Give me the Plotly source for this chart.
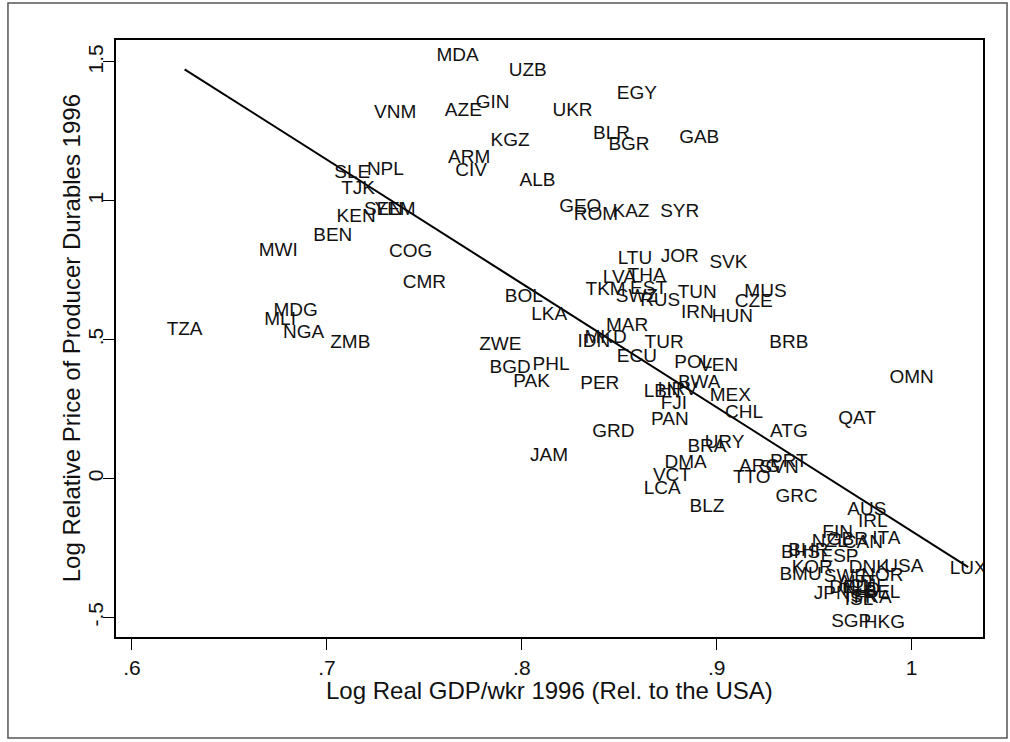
import numpy as np
import plotly.graph_objects as go

# Country codes with log real GDP per worker (rel. to USA) and log relative price of producer durables, 1996
countries = [
    "VNM", "SLE", "NPL", "TJK", "SEN", "YEM", "KEN", "BEN", "MWI", "COG",
    "MDA", "UZB", "EGY", "AZE", "GIN", "UKR", "KGZ", "BLR", "BGR", "GAB",
    "ARM", "CIV", "ALB", "GEO", "ROM", "KAZ", "SYR", "LTU", "JOR", "SVK",
    "MUS", "CZE", "HUN", "BRB", "CMR", "TZA", "MDG", "MLI", "NGA", "ZMB",
    "LVA", "THA", "TKM", "EST", "SWZ", "RUS", "TUN", "IRN", "BOL", "LKA",
    "MAR", "MKD", "IDN", "ZWE", "TUR", "ECU", "POL", "VEN", "BGD", "PHL",
    "PAK", "PER", "BWA", "LBN", "HRV", "MEX", "FJI", "PAN", "GRD", "CHL",
    "ATG", "BRA", "URY", "DMA", "VCT", "LCA", "BLZ", "ARG", "SVN", "PRT",
    "TTO", "GRC", "QAT", "OMN", "AUS", "IRL", "FIN", "ITA", "NZL", "GBR",
    "CAN", "BHS", "BHR", "ESP", "KOR", "DNK", "USA", "LUX", "BMU", "NOR",
    "JPN", "BEL", "ISL", "SGP", "HKG", "JAM", "SWE", "AUT", "CHE", "DEU",
    "FRA", "NLD", "ISR",
]

log_gdp_wkr = [
    0.735, 0.713, 0.730, 0.716, 0.729, 0.735, 0.715, 0.703, 0.675, 0.743,
    0.767, 0.803, 0.859, 0.770, 0.785, 0.826, 0.794, 0.846, 0.855, 0.891,
    0.773, 0.774, 0.808, 0.830, 0.838, 0.856, 0.881, 0.858, 0.881, 0.906,
    0.925, 0.919, 0.908, 0.937, 0.750, 0.627, 0.684, 0.676, 0.688, 0.712,
    0.850, 0.864, 0.843, 0.865, 0.859, 0.871, 0.890, 0.890, 0.801, 0.814,
    0.854, 0.843, 0.837, 0.789, 0.873, 0.859, 0.888, 0.901, 0.794, 0.815,
    0.805, 0.840, 0.891, 0.872, 0.880, 0.907, 0.878, 0.876, 0.847, 0.914,
    0.937, 0.895, 0.904, 0.884, 0.877, 0.872, 0.895, 0.922, 0.932, 0.937,
    0.918, 0.941, 0.972, 1.000, 0.977, 0.980, 0.962, 0.987, 0.958, 0.967,
    0.975, 0.943, 0.947, 0.963, 0.949, 0.978, 0.996, 1.029, 0.943, 0.985,
    0.959, 0.985, 0.973, 0.969, 0.986, 0.814, 0.966, 0.972, 0.978, 0.968,
    0.980, 0.974, 0.974,
]

log_rel_price = [
    1.315, 1.099, 1.111, 1.041, 0.967, 0.967, 0.939, 0.873, 0.819, 0.816,
    1.521, 1.465, 1.383, 1.324, 1.351, 1.324, 1.215, 1.239, 1.201, 1.225,
    1.155, 1.107, 1.072, 0.976, 0.948, 0.960, 0.960, 0.791, 0.795, 0.775,
    0.669, 0.633, 0.582, 0.488, 0.702, 0.534, 0.603, 0.570, 0.522, 0.488,
    0.720, 0.729, 0.678, 0.681, 0.654, 0.640, 0.666, 0.594, 0.654, 0.588,
    0.549, 0.504, 0.492, 0.480, 0.488, 0.438, 0.414, 0.405, 0.396, 0.408,
    0.348, 0.340, 0.344, 0.312, 0.318, 0.296, 0.268, 0.210, 0.168, 0.234,
    0.168, 0.114, 0.126, 0.056, 0.008, -0.040, -0.102, 0.042, 0.037, 0.060,
    0.002, -0.066, 0.213, 0.361, -0.114, -0.156, -0.198, -0.220, -0.228, -0.222,
    -0.234, -0.270, -0.262, -0.282, -0.324, -0.324, -0.321, -0.327, -0.348, -0.352,
    -0.417, -0.412, -0.438, -0.517, -0.520, 0.080, -0.355, -0.377, -0.392, -0.395,
    -0.431, -0.402, -0.429,
]

x_ticks = [0.6, 0.7, 0.8, 0.9, 1.0]
x_tick_text = [".6", ".7", ".8", ".9", "1"]
y_ticks = [-0.5, 0.0, 0.5, 1.0, 1.5]
y_tick_text = ["-.5", "0", ".5", "1", "1.5"]

FONT = "Arial, 'Liberation Sans', Helvetica, sans-serif"

x = np.array(log_gdp_wkr)
y = np.array(log_rel_price)

# OLS fitted line across the range of the data
slope, intercept = np.polyfit(x, y, 1)
fit_x = np.array([x.min(), x.max()])
fit_y = intercept + slope * fit_x

fig = go.Figure()

fig.add_trace(go.Scatter(
    x=fit_x, y=fit_y, mode="lines",
    line=dict(color="black", width=2),
    hoverinfo="skip", showlegend=False,
))

fig.add_trace(go.Scatter(
    x=x, y=y, mode="text", text=countries,
    textposition="middle center",
    textfont=dict(family=FONT, size=19, color="#111111"),
    showlegend=False,
))

fig.update_layout(
    width=1010, height=742,
    margin=dict(l=116, r=27, t=40, b=105),
    paper_bgcolor="white", plot_bgcolor="white",
    font=dict(family=FONT, color="#111111"),
    xaxis=dict(
        range=[0.5918, 1.0366], tickvals=x_ticks, ticktext=x_tick_text,
        showgrid=False, zeroline=False,
        showline=True, mirror=True, linecolor="black", linewidth=2,
        ticks="outside", ticklen=11, tickwidth=1, tickcolor="black",
        tickfont=dict(family=FONT, size=21, color="#111111"),
    ),
    yaxis=dict(
        range=[-0.5706, 1.579], tickvals=y_ticks, ticktext=y_tick_text,
        showgrid=False, zeroline=False,
        showline=True, mirror=True, linecolor="black", linewidth=2,
        ticks="outside", ticklen=11, tickwidth=1, tickcolor="black",
        tickangle=-90, ticklabelstandoff=-8,
        tickfont=dict(family=FONT, size=21, color="#111111"),
    ),
    annotations=[
        dict(text="Log Real GDP/wkr 1996 (Rel. to the USA)",
             xref="paper", yref="paper", x=0.5, y=-0.0888,
             xanchor="center", yanchor="middle", showarrow=False,
             font=dict(family=FONT, size=24, color="#111111")),
        dict(text="Log Relative Price of Producer Durables 1996",
             xref="paper", yref="paper", x=-0.051, y=0.5,
             xanchor="center", yanchor="middle", showarrow=False,
             textangle=-90,
             font=dict(family=FONT, size=24, color="#111111")),
    ],
    shapes=[
        dict(type="rect", xref="paper", yref="paper",
             x0=-0.1246, x1=1.0277, y0=-0.169, y1=1.062,
             line=dict(color="#555555", width=1.5), layer="below"),
    ],
)

fig.write_html("out.html")
